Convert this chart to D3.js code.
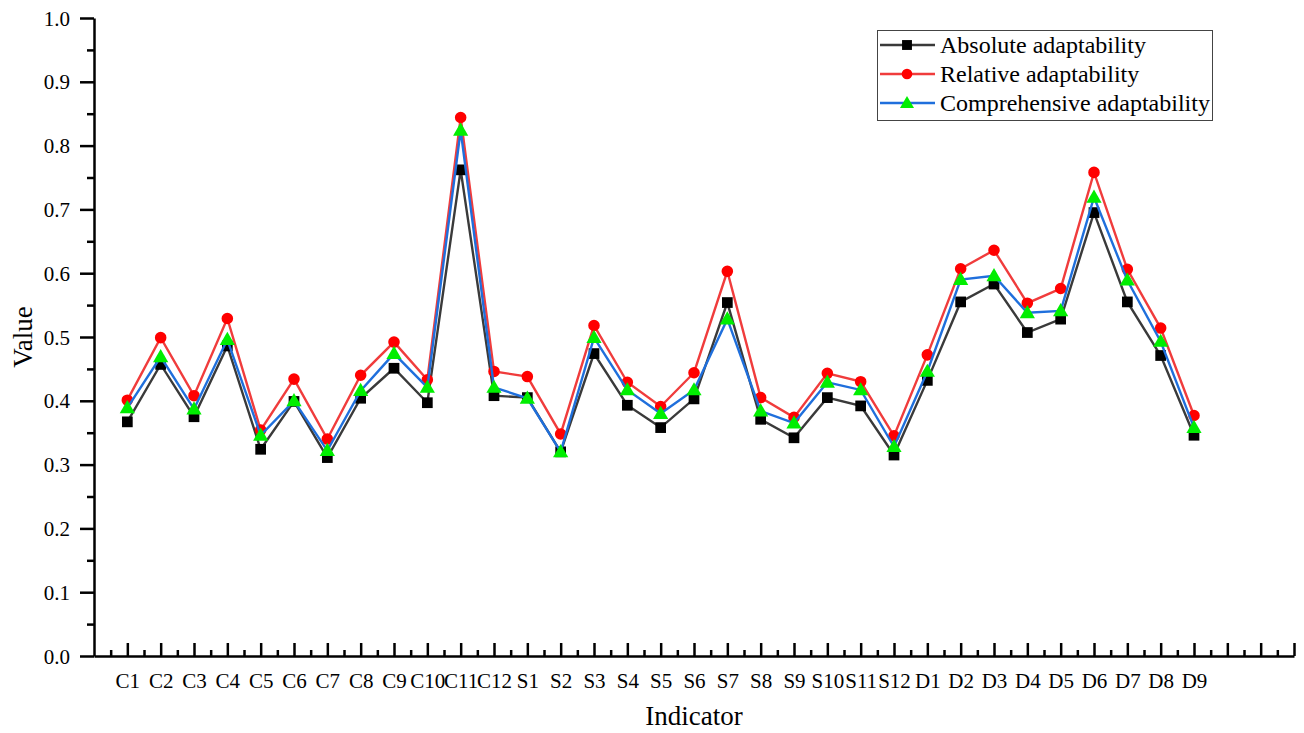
<!DOCTYPE html>
<html>
<head>
<meta charset="utf-8">
<script src="https://cdn.jsdelivr.net/npm/d3@7"></script>
<style>
  html, body { margin: 0; padding: 0; background: #fff; }
  svg { display: block; }
  text { font-family: "Liberation Serif", "Times New Roman", serif; fill: #000; }
</style>
</head>
<body>
<svg id="chart" width="1304" height="733"></svg>
<script>
const categories = ["C1","C2","C3","C4","C5","C6","C7","C8","C9","C10","C11","C12",
  "S1","S2","S3","S4","S5","S6","S7","S8","S9","S10","S11","S12",
  "D1","D2","D3","D4","D5","D6","D7","D8","D9"];

const absoluteValues = [0.367,0.457,0.375,0.486,0.324,0.399,0.311,0.404,0.451,0.397,0.762,0.408,
  0.405,0.320,0.474,0.393,0.358,0.403,0.554,0.371,0.342,0.405,0.392,0.315,
  0.432,0.555,0.583,0.507,0.528,0.695,0.555,0.471,0.346];
const relativeValues = [0.401,0.499,0.408,0.529,0.354,0.434,0.340,0.440,0.492,0.433,0.844,0.446,
  0.438,0.348,0.518,0.429,0.391,0.444,0.603,0.405,0.374,0.443,0.430,0.345,
  0.472,0.607,0.636,0.553,0.576,0.758,0.606,0.514,0.377];
const comprehensiveValues = [0.389,0.469,0.387,0.496,0.346,0.400,0.322,0.416,0.474,0.421,0.824,0.421,
  0.404,0.320,0.499,0.417,0.380,0.417,0.528,0.384,0.365,0.429,0.417,0.328,
  0.446,0.590,0.596,0.538,0.541,0.719,0.589,0.493,0.358];

const yTicks = [0.0,0.1,0.2,0.3,0.4,0.5,0.6,0.7,0.8,0.9,1.0];
const seriesNames = ["Absolute adaptability","Relative adaptability","Comprehensive adaptability"];

const FONT = "'Liberation Serif', 'Times New Roman', serif";

const series = [
  {name: seriesNames[0], values: absoluteValues, line: "#3a3a3a", marker: "#000000", symbol: d3.symbolSquare, size: 115},
  {name: seriesNames[1], values: relativeValues, line: "#f03c3c", marker: "#ff0000", symbol: d3.symbolCircle, size: 105},
  {name: seriesNames[2], values: comprehensiveValues, line: "#1f6fdc", marker: "#00ee00", symbol: d3.symbolTriangle, size: 100}
];

const svg = d3.select("#chart");
const x = d3.scaleLinear().domain([0, 36]).range([94, 1294]);
const y = d3.scaleLinear().domain([0, 1]).range([656, 18]);

// Y axis
const yAxis = svg.append("g").attr("transform", "translate(94,0)");
yAxis.call(d3.axisLeft(y).tickValues(yTicks).tickFormat(d3.format(".1f")).tickSize(14).tickSizeOuter(0))
  .attr("font-family", FONT)
  .call(g => g.select(".domain").attr("stroke", "#000").attr("stroke-width", 2.5))
  .call(g => g.selectAll(".tick line").attr("stroke-width", 2.5))
  .call(g => g.selectAll(".tick text").attr("x", -24).attr("dy", "0.34em")
    .attr("font-family", FONT).attr("font-size", 21));
const yMinor = d3.range(0.05, 1, 0.1);
svg.append("g").attr("transform", "translate(94,0)")
  .call(d3.axisLeft(y).tickValues(yMinor).tickSize(7).tickFormat(""))
  .call(g => g.select(".domain").remove())
  .call(g => g.selectAll(".tick line").attr("stroke-width", 2.5));

// X axis (ticks inward)
const xMajor = d3.range(1, 37);
const xAxis = svg.append("g").attr("transform", "translate(0,656)");
xAxis.call(d3.axisBottom(x).tickValues(xMajor).tickSize(-13).tickSizeOuter(0)
    .tickFormat(i => categories[i - 1] || ""))
  .attr("font-family", FONT)
  .call(g => g.select(".domain").attr("stroke", "#000").attr("stroke-width", 2.5))
  .call(g => g.selectAll(".tick line").attr("stroke-width", 2.5))
  .call(g => g.selectAll(".tick text").attr("y", 32).attr("dy", 0)
    .attr("font-family", FONT).attr("font-size", 21));
svg.append("g").attr("transform", "translate(0,656)")
  .call(d3.axisBottom(x).tickValues(d3.range(0.5, 36, 1)).tickSize(-6).tickFormat(""))
  .call(g => g.select(".domain").remove())
  .call(g => g.selectAll(".tick line").attr("stroke-width", 2.5));

// Axis titles
svg.append("text").attr("x", 694).attr("y", 725).attr("text-anchor", "middle")
  .attr("font-family", FONT).attr("font-size", 27).text("Indicator");
svg.append("text").attr("transform", "translate(32,337) rotate(-90)").attr("text-anchor", "middle")
  .attr("font-family", FONT).attr("font-size", 27).text("Value");

// Series
const line = d3.line().x((d, i) => x(i + 1)).y(d => y(d));
series.forEach(s => {
  svg.append("path").datum(s.values).attr("d", line)
    .attr("fill", "none").attr("stroke", s.line).attr("stroke-width", 2.4).attr("stroke-linejoin", "miter");
  svg.append("g").selectAll("path").data(s.values).join("path")
    .attr("d", d3.symbol().type(s.symbol).size(s.size))
    .attr("transform", (d, i) => `translate(${x(i + 1)},${y(d) + (s.symbol === d3.symbolTriangle ? 1 : 0)})`)
    .attr("fill", s.marker);
});

// Legend
const legend = svg.append("g");
legend.append("rect").attr("x", 877.5).attr("y", 30.5).attr("width", 335).attr("height", 90)
  .attr("fill", "#fff").attr("stroke", "#444").attr("stroke-width", 1);
series.forEach((s, k) => {
  const ly = 45 + k * 29;
  legend.append("line").attr("x1", 880).attr("x2", 935).attr("y1", ly).attr("y2", ly)
    .attr("stroke", s.line).attr("stroke-width", 2.4);
  legend.append("path").attr("d", d3.symbol().type(s.symbol).size(s.size * 0.85))
    .attr("transform", `translate(907,${ly + (s.symbol === d3.symbolTriangle ? 1 : 0)})`).attr("fill", s.marker);
  legend.append("text").attr("x", 940).attr("y", ly).attr("dy", "0.34em")
    .attr("font-family", FONT).attr("font-size", 24).text(s.name);
});
</script>
</body>
</html>
